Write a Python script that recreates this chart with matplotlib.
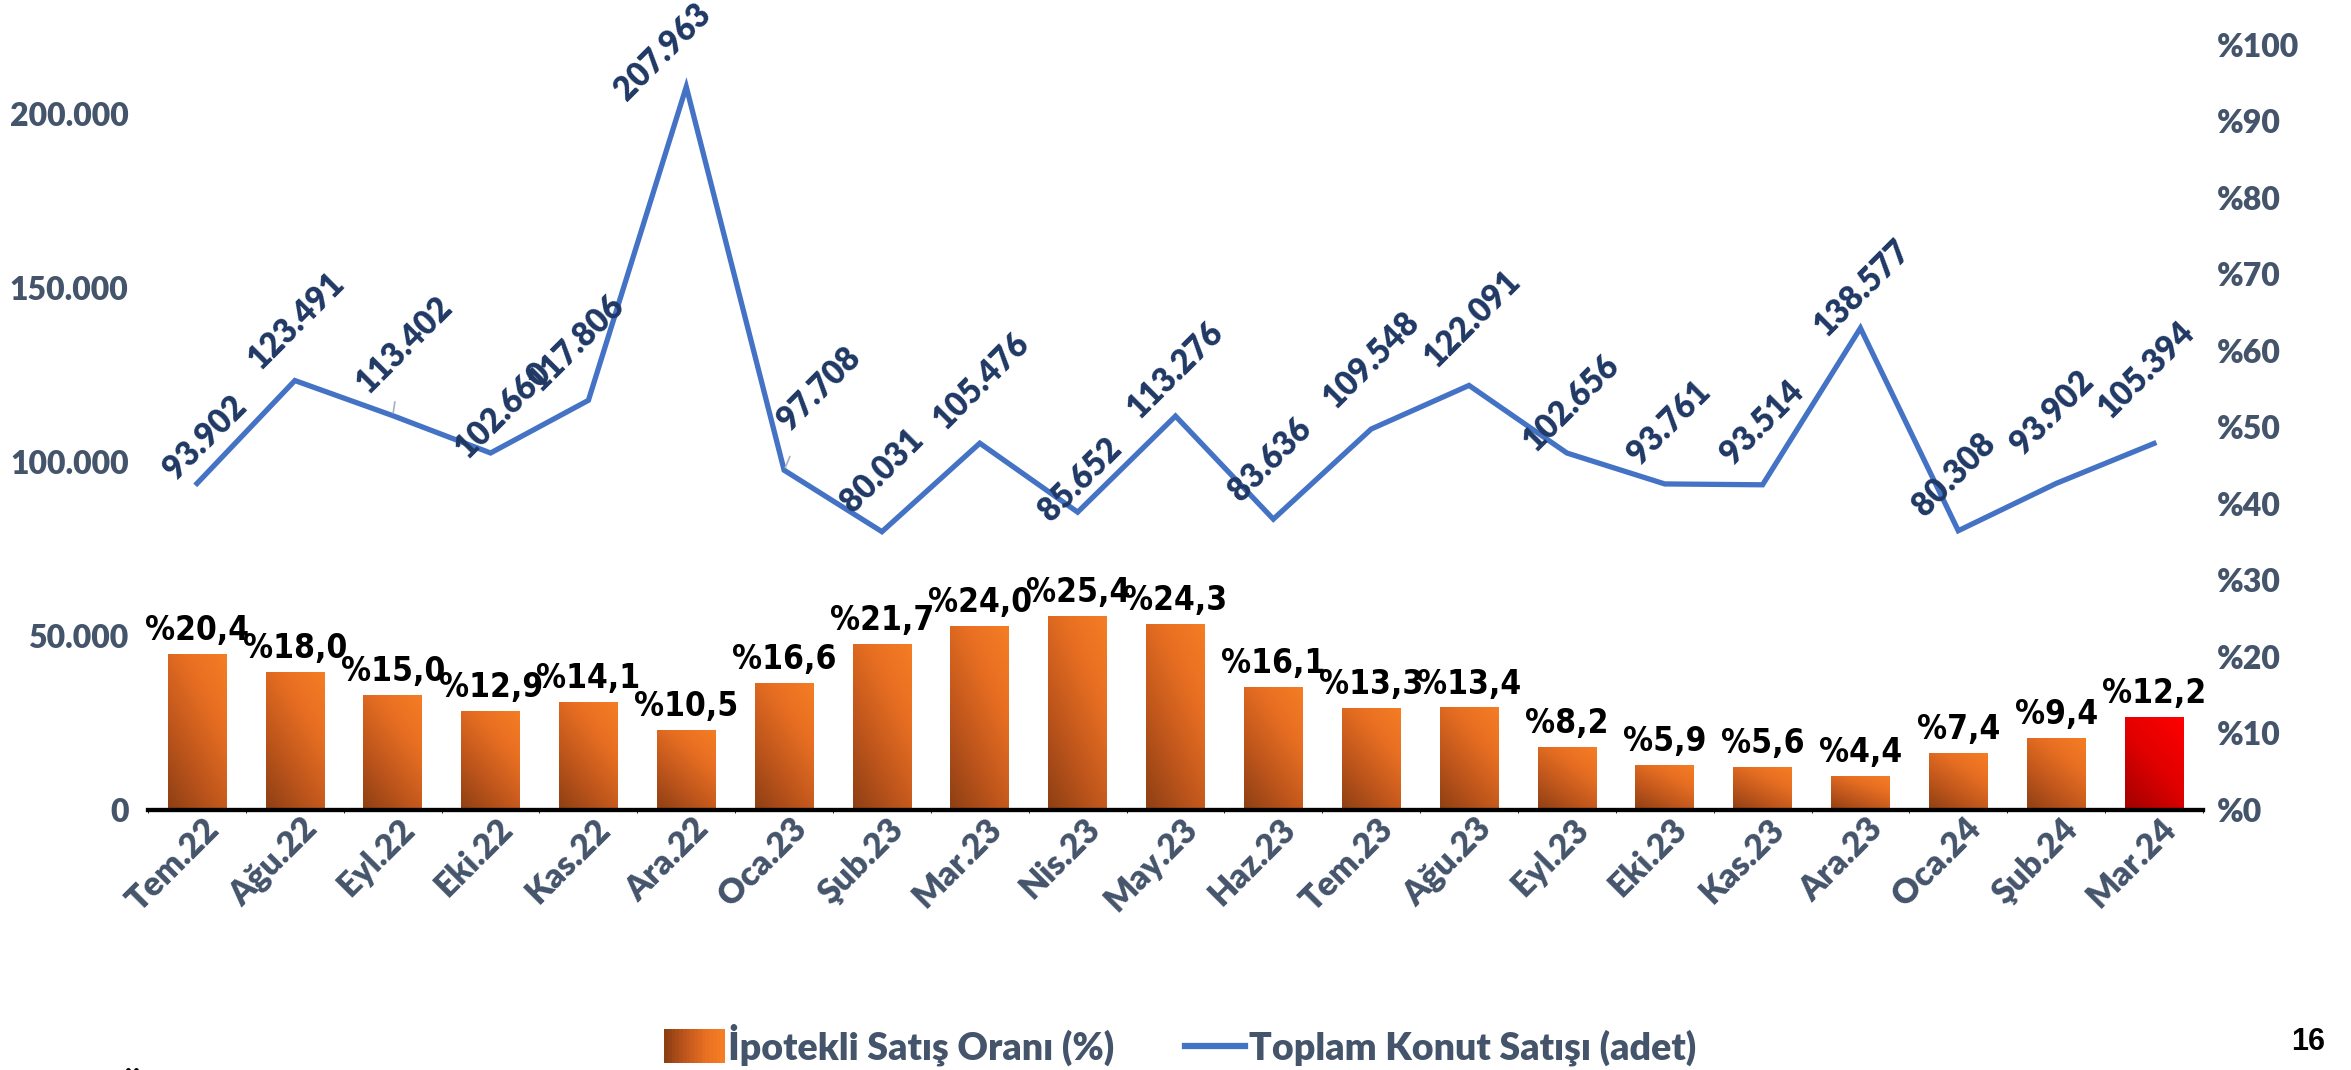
import numpy as np
import matplotlib
matplotlib.use("Agg")
from matplotlib import pyplot as plt
from matplotlib.colors import LinearSegmentedColormap
from matplotlib.patches import Rectangle
from matplotlib.lines import Line2D
from matplotlib.legend_handler import HandlerBase
import matplotlib.transforms as mtransforms

# Data
months = ['Tem.22', 'Ağu.22', 'Eyl.22', 'Eki.22', 'Kas.22', 'Ara.22', 'Oca.23',
          'Şub.23', 'Mar.23', 'Nis.23', 'May.23', 'Haz.23', 'Tem.23', 'Ağu.23',
          'Eyl.23', 'Eki.23', 'Kas.23', 'Ara.23', 'Oca.24', 'Şub.24', 'Mar.24']
total_sales = [93902, 123491, 113402, 102660, 117806, 207963, 97708,
               80031, 105476, 85652, 113276, 83636, 109548, 122091,
               102656, 93761, 93514, 138577, 80308, 93902, 105394]
mortgage_share = [20.4, 18.0, 15.0, 12.9, 14.1, 10.5, 16.6,
                  21.7, 24.0, 25.4, 24.3, 16.1, 13.3, 13.4,
                  8.2, 5.9, 5.6, 4.4, 7.4, 9.4, 12.2]
left_ticks = [0, 50000, 100000, 150000, 200000]
right_ticks = [0, 10, 20, 30, 40, 50, 60, 70, 80, 90, 100]

# label offsets in points (manual placement like in the original)
line_lbl_off = [(6, 33), (1, 43), (8, 51), (9, 31), (-9, 41), (-17, 25), (25, 59),
                (0, 44), (1, 45), (2, 23), (0, 33), (-2, 43), (0, 50), (2, 48),
                (3, 36), (3, 44), (0, 45), (1, 29), (-3, 40), (-3, 51), (-6, 53)]
leader_idx = [2, 6]

tick_col = '#44546A'
navy = '#1F3864'
blue = '#4472C4'
main_font = ['Lato', 'DejaVu Sans']
heavy = 800

orange_cmap = LinearSegmentedColormap.from_list(
    'org', [(0, '#8E3F14'), (0.35, '#BF561C'), (0.7, '#E86F22'), (1, '#F57D24')])
red_cmap = LinearSegmentedColormap.from_list('red', ['#A00000', '#E00000', '#FF0000'])


def fmt_thousands(v):
    return f'{v:,.0f}'.replace(',', '.')


fig = plt.figure(figsize=(23.51, 10.70), dpi=100)
ax = fig.add_axes([0.063, 0.243, 0.874, 0.715])
ax2 = ax.twinx()
ax.set_zorder(2)
ax.patch.set_visible(False)

x = np.arange(len(months))

# bars on right axis, with gradient fill
bars = ax2.bar(x, mortgage_share, width=0.6, color='none', edgecolor='none')
u, v = np.meshgrid(np.linspace(0, 1, 60), np.linspace(0, 1, 200))
grad = np.clip((0.8 * u + 1.2 * v) / 2.0, 0, 1)
for i, b in enumerate(bars):
    cm = red_cmap if i == len(bars) - 1 else orange_cmap
    x0, w, h = b.get_x(), b.get_width(), b.get_height()
    im = ax2.imshow(grad, cmap=cm, origin='lower', extent=[x0, x0 + w, 0, h],
                    aspect='auto', zorder=2, interpolation='bilinear')
    im.set_clip_path(b)
    ax2.annotate(f'%{mortgage_share[i]:.1f}'.replace('.', ','), (x[i], h),
                 xytext=(0, 5), textcoords='offset points', ha='center', va='bottom',
                 fontsize=24, fontweight='bold', fontstretch='condensed',
                 family='DejaVu Sans', color='black')

ax2.set_ylim(0, 100)
ax2.set_yticks(right_ticks)
ax2.set_yticklabels([f'%{t}' for t in right_ticks])

# line on left axis
ax.plot(x, total_sales, color=blue, lw=3.8, solid_joinstyle='miter', zorder=3)
for i, val in enumerate(total_sales):
    dx, dy = line_lbl_off[i]
    arrow = None
    if i in leader_idx:
        arrow = dict(arrowstyle='-', color='#A6B0C3', lw=1.2, shrinkA=14, shrinkB=2)
    ax.annotate(fmt_thousands(val), (x[i], val), xytext=(dx, dy),
                textcoords='offset points', ha='center', va='center', rotation=45,
                fontsize=23.5, fontweight=heavy, family=main_font, color=navy,
                arrowprops=arrow)

ax.set_ylim(0, 220000)
ax.set_yticks(left_ticks)
ax.set_yticklabels([fmt_thousands(t) for t in left_ticks])
ax.set_xlim(-0.5, len(months) - 0.5)
ax.set_xticks(x)
ax.set_xticklabels(months)

# vertical gridlines at category boundaries
ax2.set_xticks(np.arange(-0.5, len(months)), minor=True)
ax2.grid(which='minor', axis='x', color='#EBEBEB', lw=1.5, zorder=0)
ax2.tick_params(axis='x', which='minor', length=0)
ax2.set_axisbelow(True)

for a in (ax, ax2):
    for s in ('top', 'left', 'right'):
        a.spines[s].set_visible(False)
    a.spines['bottom'].set_color('black')
    a.spines['bottom'].set_linewidth(3)

ax.tick_params(axis='y', length=0, pad=14, labelsize=23, labelcolor=tick_col)
ax2.tick_params(axis='y', length=0, pad=10, labelsize=23, labelcolor=tick_col)
ax.tick_params(axis='x', length=0, pad=10, labelsize=24.5, labelcolor=tick_col)
for lbl in ax.get_yticklabels() + ax2.get_yticklabels():
    lbl.set_fontweight(heavy)
    lbl.set_family(main_font)
shift = mtransforms.ScaledTranslation(0.17, 0, fig.dpi_scale_trans)
for lbl in ax.get_xticklabels():
    lbl.set_rotation(45)
    lbl.set_ha('right')
    lbl.set_va('center')
    lbl.set_rotation_mode('anchor')
    lbl.set_fontweight(heavy)
    lbl.set_family(main_font)
    lbl.set_transform(lbl.get_transform() + shift)


class GradHandler(HandlerBase):
    def create_artists(self, legend, orig, xd, yd, w, h, fs, trans):
        n = 16
        arts = []
        for k in range(n):
            arts.append(Rectangle((xd + w * k / n, yd - 3), w / n + 0.5, h + 6,
                                  facecolor=orange_cmap(k / (n - 1)), edgecolor='none',
                                  transform=trans))
        return arts


bar_handle = Rectangle((0, 0), 1, 1)
line_handle = Line2D([0], [0], color=blue, lw=4.5)
leg = fig.legend([bar_handle, line_handle],
                 ['İpotekli Satış Oranı (%)', 'Toplam Konut Satışı (adet)'],
                 handler_map={Rectangle: GradHandler()},
                 loc='center', bbox_to_anchor=(0.502, 0.024), ncol=2, frameon=False,
                 handlelength=1.6, handletextpad=0.1, columnspacing=1.9,
                 prop={'family': main_font, 'weight': heavy, 'size': 27})
for t in leg.get_texts():
    t.set_color(tick_col)

fig.text(0.989, 0.012, '16', ha='right', va='bottom', fontsize=22,
         fontweight='bold', family=['Liberation Sans', 'DejaVu Sans'], color='black')
fig.text(0.056, -0.035, 'Ü', ha='center', va='bottom', fontsize=26,
         fontweight='bold', family=main_font, color='black')

fig.savefig('out.png', dpi=100, facecolor='white')
